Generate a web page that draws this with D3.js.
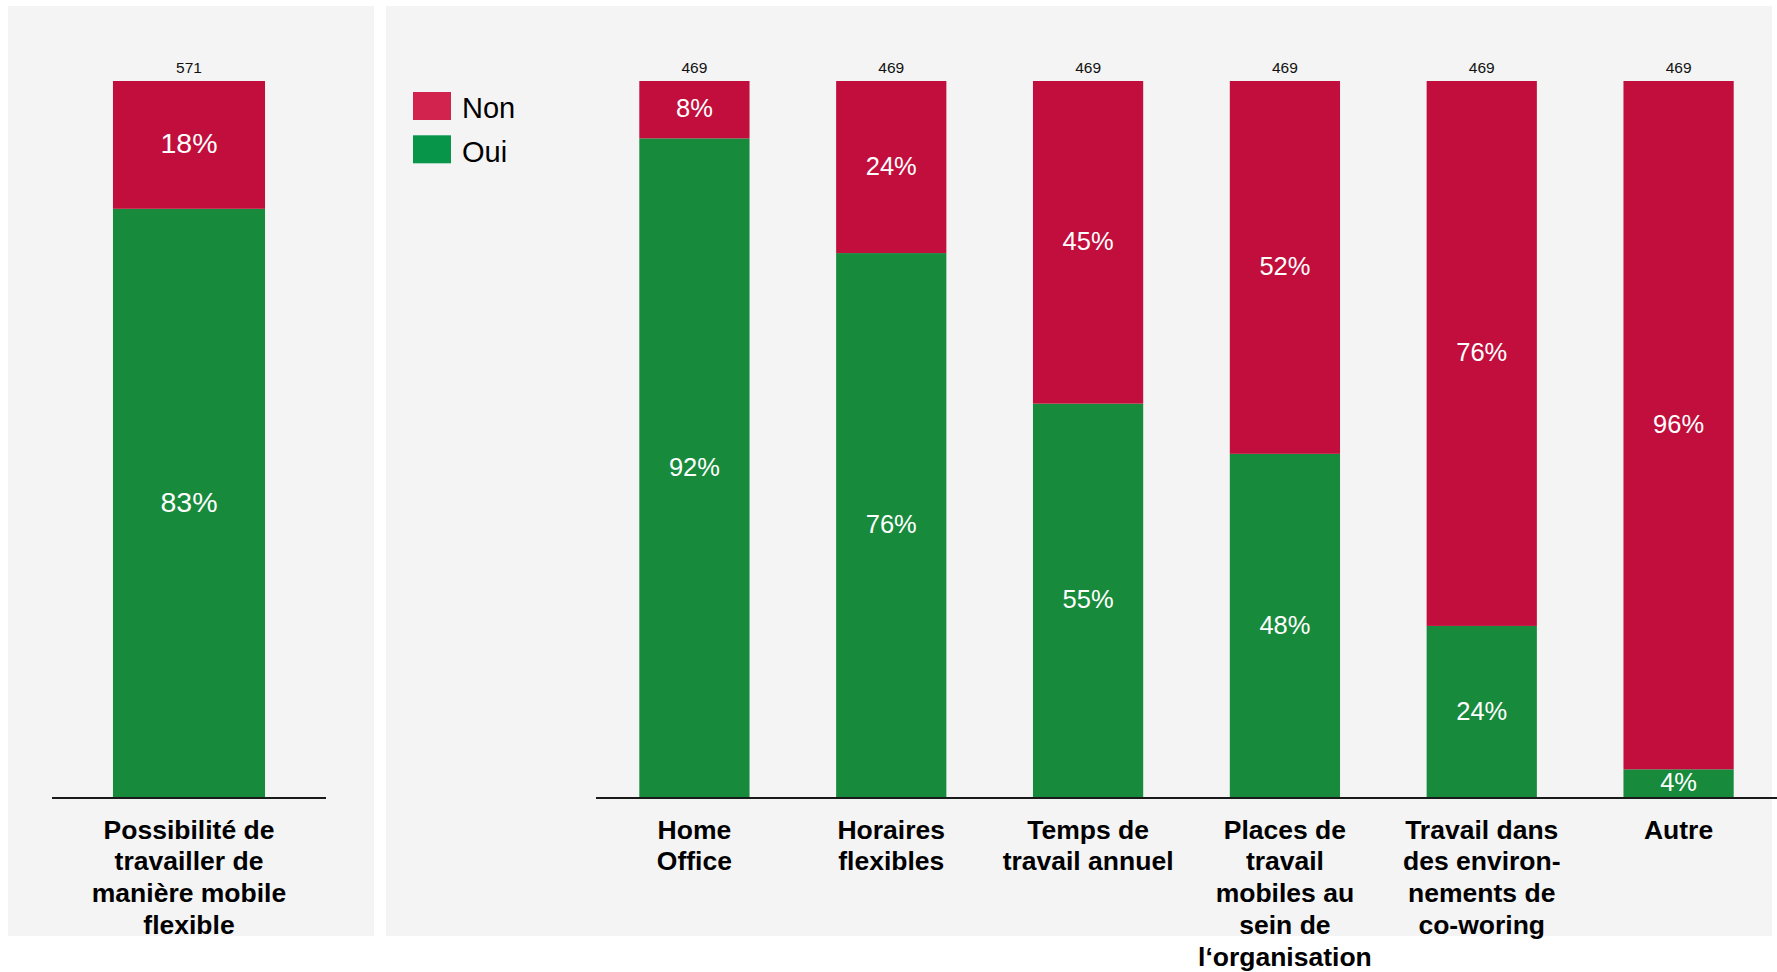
<!DOCTYPE html>
<html>
<head>
<meta charset="utf-8">
<script src="https://cdn.jsdelivr.net/npm/d3@7"></script>
<style>
  html, body { margin: 0; padding: 0; background: #ffffff; }
  svg { display: block; font-family: "Liberation Sans", Arial, sans-serif; }
</style>
</head>
<body>
<svg id="chart" width="1777" height="972"></svg>
<script>
// ---- Data ----
const leftCategories = ["Possibilité de\ntravailler de\nmanière mobile\nflexible"];
const leftOui = [83];
const leftNon = [18];
const leftCounts = [571];

const rightCategories = [
  "Home\nOffice",
  "Horaires\nflexibles",
  "Temps de\ntravail annuel",
  "Places de\ntravail\nmobiles au\nsein de\nl‘organisation",
  "Travail dans\ndes environ-\nnements de\nco-woring",
  "Autre"
];
const rightOui = [92, 76, 55, 48, 24, 4];
const rightNon = [8, 24, 45, 52, 76, 96];
const rightCounts = [469, 469, 469, 469, 469, 469];

const seriesNames = ["Non", "Oui"];

// ---- Style ----
const barColors = { Oui: "#178A3C", Non: "#C20E3C" };
const legendColors = { Non: "#D2234F", Oui: "#07954A" };
const panelFill = "#F4F4F4";

const svg = d3.select("#chart");
const baseY = 798, topY = 81;
const y = d3.scaleLinear().domain([0, 1]).range([baseY, topY]);

function drawPanel(cfg) {
  const g = svg.append("g");
  g.append("rect")
    .attr("x", cfg.panel[0]).attr("y", 6)
    .attr("width", cfg.panel[1] - cfg.panel[0]).attr("height", 930)
    .attr("fill", panelFill);

  const rows = cfg.categories.map((c, i) => {
    const tot = cfg.oui[i] + cfg.non[i];
    return { cat: c, Oui: cfg.oui[i] / tot, Non: cfg.non[i] / tot,
             ouiLabel: cfg.oui[i], nonLabel: cfg.non[i], n: cfg.counts[i] };
  });

  const x = d3.scaleBand().domain(cfg.categories).range(cfg.range)
    .paddingInner(cfg.pi).paddingOuter(cfg.po);

  const stack = d3.stack().keys(["Oui", "Non"])(rows);

  stack.forEach(layer => {
    const key = layer.key;
    const lg = g.append("g");
    lg.selectAll("rect").data(layer).join("rect")
      .attr("x", d => x(d.data.cat))
      .attr("width", x.bandwidth())
      .attr("y", d => y(d[1]))
      .attr("height", d => y(d[0]) - y(d[1]))
      .attr("fill", barColors[key]);
    lg.selectAll("text").data(layer).join("text")
      .attr("x", d => x(d.data.cat) + x.bandwidth() / 2)
      .attr("y", d => (y(d[0]) + y(d[1])) / 2)
      .attr("dy", "0.3em")
      .attr("text-anchor", "middle")
      .attr("fill", "#ffffff")
      .attr("font-size", cfg.pctSize)
      .text(d => (key === "Oui" ? d.data.ouiLabel : d.data.nonLabel) + "%");
  });

  // counts
  g.selectAll("text.count").data(rows).join("text")
    .attr("class", "count")
    .attr("x", d => x(d.cat) + x.bandwidth() / 2)
    .attr("y", 73)
    .attr("text-anchor", "middle")
    .attr("font-size", 15.5)
    .attr("fill", "#111")
    .text(d => d.n);

  // axis baseline
  const axis = d3.axisBottom(x).tickSize(0).tickFormat("");
  const ag = g.append("g").attr("transform", `translate(0,${baseY})`).call(axis);
  ag.select(".domain").attr("stroke", "#1a1a1a").attr("stroke-width", 2.2)
    .attr("d", `M${cfg.range[0]},0H${cfg.lineEnd}`);

  // category labels
  rows.forEach(d => {
    const lines = d.cat.split("\n");
    const t = g.append("text")
      .attr("text-anchor", "middle")
      .attr("font-size", 26.5)
      .attr("font-weight", "bold")
      .attr("fill", "#000");
    lines.forEach((ln, i) => {
      t.append("tspan")
        .attr("x", x(d.cat) + x.bandwidth() / 2)
        .attr("y", 829 + i * 31.8)
        .attr("dy", "0.36em")
        .text(ln);
    });
  });
}

drawPanel({
  panel: [8, 374], range: [52, 326], lineEnd: 326, pi: 0, po: 0.401,
  categories: leftCategories, oui: leftOui, non: leftNon, counts: leftCounts,
  pctSize: 28.5
});

drawPanel({
  panel: [386, 1772], range: [596, 1777], lineEnd: 1777, pi: 0.44, po: 0.22,
  categories: rightCategories, oui: rightOui, non: rightNon, counts: rightCounts,
  pctSize: 25.5
});

// legend
const legend = svg.append("g").attr("transform", "translate(413,92)");
seriesNames.forEach((s, i) => {
  legend.append("rect")
    .attr("x", 0).attr("y", i * 43.3)
    .attr("width", 38).attr("height", 28)
    .attr("fill", legendColors[s]);
  legend.append("text")
    .attr("x", 49).attr("y", i * 43.3 + 16)
    .attr("dy", "0.36em")
    .attr("font-size", 29)
    .attr("fill", "#000")
    .text(s);
});
</script>
</body>
</html>
